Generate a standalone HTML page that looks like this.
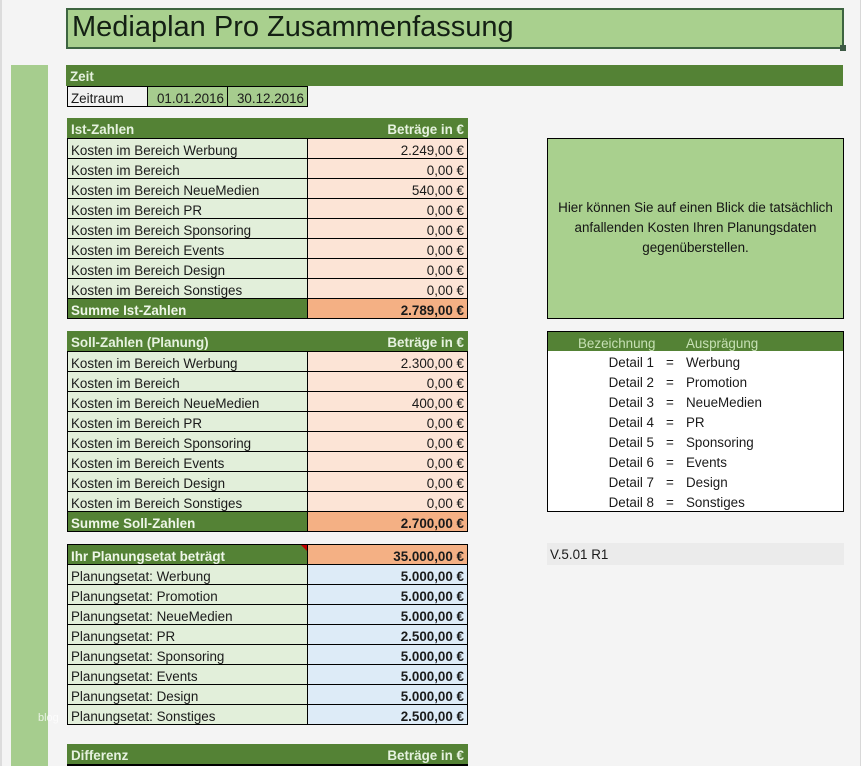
<!DOCTYPE html>
<html><head><meta charset="utf-8">
<style>
*{margin:0;padding:0;box-sizing:border-box}
html,body{width:862px;height:766px;overflow:hidden;background:#f4f4f4}
body{position:relative;font-family:"Liberation Sans",Arial,sans-serif;font-size:13.4px;color:#1a1a1a}
.abs{position:absolute}
.grid{position:absolute;display:grid;background:#000;padding:1px;gap:1px;grid-auto-rows:19px}
.c{height:19px;line-height:23px;overflow:hidden;white-space:nowrap;padding:0 3px}
.l{background:#e2efda}
.r{background:#fce4d6;text-align:right}
.b{background:#ddebf7;text-align:right;font-weight:bold}
.g{background:#548235;color:#eef6e8;font-weight:bold}
.o{background:#f4b084;text-align:right;font-weight:bold}
.hdr{position:absolute;left:67px;width:401px;height:20px;background:#548235;color:#e6f2df;font-weight:bold;line-height:24px;padding:0 4px;white-space:nowrap}
.hdr span{float:right}
</style></head><body>
<div class="abs" style="left:0;top:0;width:2px;height:766px;background:#dcdcdc"></div>
<div class="abs" style="left:860px;top:0;width:2px;height:766px;background:#fff;border-left:1px solid #d8d8d8"></div>
<div class="abs" style="left:11px;top:65px;width:37px;height:701px;background:#a6cd8e"></div>
<div class="abs" style="left:38px;top:712px;color:rgba(255,255,255,.75);font-size:11px">blog</div>

<!-- title -->
<div class="abs" style="left:66px;top:8px;width:778px;height:41px;background:#a9d08e;border:2px solid #3d6440"></div>
<div class="abs" style="left:72px;top:13px;font-size:29px;line-height:29px;color:#142014;white-space:nowrap">Mediaplan Pro Zusammenfassung</div>
<div class="abs" style="left:840px;top:45px;width:6px;height:6px;background:#3d5a45"></div>

<!-- Zeit -->
<div class="abs" style="left:66px;top:65px;width:777px;height:21px;background:#548235;color:#e6f2df;font-weight:bold;line-height:24px;padding-left:4px">Zeit</div>
<div class="grid" style="left:67px;top:86px;grid-template-columns:79px 79px 79px">
<div class="c" style="background:#f2f2f2">Zeitraum</div>
<div class="c" style="background:#a6cc8e;text-align:right">01.01.2016</div>
<div class="c" style="background:#a6cc8e;text-align:right">30.12.2016</div>
</div>

<!-- Ist -->
<div class="hdr" style="top:118px">Ist-Zahlen<span>Beträge in €</span></div>
<div class="grid" style="left:67px;top:138px;grid-template-columns:239px 159px">
<div class="c l">Kosten im Bereich Werbung</div><div class="c r">2.249,00 €</div>
<div class="c l">Kosten im Bereich</div><div class="c r">0,00 €</div>
<div class="c l">Kosten im Bereich NeueMedien</div><div class="c r">540,00 €</div>
<div class="c l">Kosten im Bereich PR</div><div class="c r">0,00 €</div>
<div class="c l">Kosten im Bereich Sponsoring</div><div class="c r">0,00 €</div>
<div class="c l">Kosten im Bereich Events</div><div class="c r">0,00 €</div>
<div class="c l">Kosten im Bereich Design</div><div class="c r">0,00 €</div>
<div class="c l">Kosten im Bereich Sonstiges</div><div class="c r">0,00 €</div>
<div class="c g">Summe Ist-Zahlen</div><div class="c o">2.789,00 €</div>
</div>

<!-- Soll -->
<div class="hdr" style="top:331px">Soll-Zahlen (Planung)<span>Beträge in €</span></div>
<div class="grid" style="left:67px;top:351px;grid-template-columns:239px 159px">
<div class="c l">Kosten im Bereich Werbung</div><div class="c r">2.300,00 €</div>
<div class="c l">Kosten im Bereich</div><div class="c r">0,00 €</div>
<div class="c l">Kosten im Bereich NeueMedien</div><div class="c r">400,00 €</div>
<div class="c l">Kosten im Bereich PR</div><div class="c r">0,00 €</div>
<div class="c l">Kosten im Bereich Sponsoring</div><div class="c r">0,00 €</div>
<div class="c l">Kosten im Bereich Events</div><div class="c r">0,00 €</div>
<div class="c l">Kosten im Bereich Design</div><div class="c r">0,00 €</div>
<div class="c l">Kosten im Bereich Sonstiges</div><div class="c r">0,00 €</div>
<div class="c g">Summe Soll-Zahlen</div><div class="c o">2.700,00 €</div>
</div>

<!-- Planungsetat -->
<div class="grid" style="left:67px;top:544px;grid-template-columns:239px 159px">
<div class="c g">Ihr Planungsetat beträgt</div><div class="c o">35.000,00 €</div>
<div class="c l">Planungsetat: Werbung</div><div class="c b">5.000,00 €</div>
<div class="c l">Planungsetat: Promotion</div><div class="c b">5.000,00 €</div>
<div class="c l">Planungsetat: NeueMedien</div><div class="c b">5.000,00 €</div>
<div class="c l">Planungsetat: PR</div><div class="c b">2.500,00 €</div>
<div class="c l">Planungsetat: Sponsoring</div><div class="c b">5.000,00 €</div>
<div class="c l">Planungsetat: Events</div><div class="c b">5.000,00 €</div>
<div class="c l">Planungsetat: Design</div><div class="c b">5.000,00 €</div>
<div class="c l">Planungsetat: Sonstiges</div><div class="c b">2.500,00 €</div>
</div>
<div class="abs" style="left:301px;top:545px;width:0;height:0;border-top:6px solid #c00000;border-left:6px solid transparent"></div>

<!-- Differenz -->
<div class="hdr" style="top:744px">Differenz<span>Beträge in €</span></div>
<div class="abs" style="left:67px;top:764px;width:401px;height:2px;background:#000"></div>

<!-- right info box -->
<div class="abs" style="left:547px;top:138px;width:297px;height:181px;background:#a9d08e;border:1px solid #000"></div>
<div class="abs" style="left:547px;top:198px;width:297px;text-align:center;line-height:20px;color:#141414">Hier können Sie auf einen Blick die tatsächlich<br>anfallenden Kosten Ihren Planungsdaten<br>gegenüberstellen.</div>

<!-- Bezeichnung -->
<div class="abs" style="left:547px;top:331px;width:297px;height:181px;background:#fff;border:1px solid #000"></div>
<div class="abs" style="left:548px;top:332px;width:295px;height:19px;background:#548235"></div>
<div class="abs" style="left:578px;top:332px;line-height:23px;color:#c6e0b4">Bezeichnung</div>
<div class="abs" style="left:686px;top:332px;line-height:23px;color:#c6e0b4">Ausprägung</div>
<div class="abs" style="left:560px;top:351px;width:94px;text-align:right;line-height:20px;padding-top:2px">Detail 1<br>Detail 2<br>Detail 3<br>Detail 4<br>Detail 5<br>Detail 6<br>Detail 7<br>Detail 8</div>
<div class="abs" style="left:666px;top:351px;line-height:20px;padding-top:2px">=<br>=<br>=<br>=<br>=<br>=<br>=<br>=</div>
<div class="abs" style="left:686px;top:351px;line-height:20px;padding-top:2px">Werbung<br>Promotion<br>NeueMedien<br>PR<br>Sponsoring<br>Events<br>Design<br>Sonstiges</div>

<!-- version -->
<div class="abs" style="left:547px;top:543px;width:297px;height:22px;background:#ebebeb;padding-left:3px;line-height:24px">V.5.01 R1</div>
</body></html>
